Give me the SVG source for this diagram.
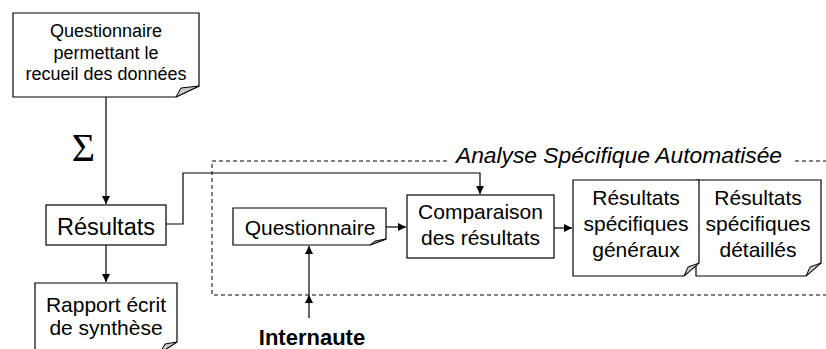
<svg xmlns="http://www.w3.org/2000/svg" width="826" height="349" viewBox="0 0 826 349">
<defs>
<style>
.box{fill:#fff;stroke:#000;stroke-width:1.2}
.fold{fill:#c8c8c8;stroke:#000;stroke-width:1}
.t{font-family:"Liberation Sans",Arial,sans-serif;fill:#000;text-anchor:middle}
.c{fill:none;stroke:#000;stroke-width:1.2}
.d{fill:none;stroke:#000;stroke-width:1;stroke-dasharray:4 3}
</style>
<marker id="ah" viewBox="0 0 10 10" refX="10" refY="5" markerWidth="8" markerHeight="8" markerUnits="userSpaceOnUse" orient="auto">
<path d="M0,0 L10,5 L0,10 z" fill="#000"/>
</marker>
</defs>
<rect width="826" height="349" fill="#fff"/>

<g id="group-analyse">
<path class="d" d="M447,161 H212 V295 H826"/>
<path class="d" d="M795,161 H826"/>
<text class="t" x="619" y="163" font-size="22.8" font-style="italic">Analyse Spécifique Automatisée</text>
</g>

<g id="connectors">
<path class="c" d="M106,97 V204" marker-end="url(#ah)"/>
<path class="c" d="M106,245 V282" marker-end="url(#ah)"/>
<path class="c" d="M166,224 H183 V173 H480 V194" marker-end="url(#ah)"/>
<path class="c" d="M386,227 H406" marker-end="url(#ah)"/>
<path class="c" d="M554,228 H572" marker-end="url(#ah)"/>
<path class="c" d="M309,318 V295" marker-end="url(#ah)"/>
<path class="c" d="M309,295 V246" marker-end="url(#ah)"/>
</g>

<g id="sigma">
<text x="83.5" y="161" font-family="Liberation Serif,'Times New Roman',serif" font-size="40" text-anchor="middle" fill="#000">Σ</text>
</g>

<g id="node-questionnaire-donnees">
<path class="box" d="M13,13 H199 V86 L176,97 H13 Z"/>
<path class="fold" d="M199,86 L176,97 L181,88 Z"/>
<text class="t" font-size="18" x="106" y="37">Questionnaire</text>
<text class="t" font-size="18" x="106" y="59">permettant le</text>
<text class="t" font-size="18" x="106" y="80">recueil des données</text>
</g>

<g id="node-resultats">
<rect class="box" x="46" y="205" width="120" height="40"/>
<text class="t" font-size="23.5" x="106" y="235">Résultats</text>
</g>

<g id="node-rapport">
<path class="box" d="M35,283 H177 V342 L160,353 H35 Z"/>
<path class="fold" d="M177,342 L160,353 L165,344 Z"/>
<text class="t" font-size="21" x="106" y="312">Rapport écrit</text>
<text class="t" font-size="21" x="106" y="335">de synthèse</text>
</g>

<g id="node-questionnaire">
<path class="box" d="M233,208 H386 V239 L370,245 H233 Z"/>
<path class="fold" d="M386,239 L370,245 L375,241 Z"/>
<text class="t" font-size="21" x="310" y="235">Questionnaire</text>
</g>

<g id="node-comparaison">
<rect class="box" x="407" y="195" width="147" height="63"/>
<text class="t" font-size="21" x="480.5" y="219">Comparaison</text>
<text class="t" font-size="21" x="480.5" y="245">des résultats</text>
</g>

<g id="node-resultats-detailles">
<path class="box" d="M696,180 H821 V263 L806,276 H696 Z"/>
<path class="fold" d="M821,263 L806,276 L810,267 Z"/>
<text class="t" font-size="21" x="758" y="205">Résultats</text>
<text class="t" font-size="21" x="758" y="231">spécifiques</text>
<text class="t" font-size="21" x="758" y="257">détaillés</text>
</g>

<g id="node-resultats-generaux">
<path class="box" d="M573,180 H699 V263 L684,276 H573 Z"/>
<path class="fold" d="M699,263 L684,276 L688,267 Z"/>
<text class="t" font-size="21" x="636" y="205">Résultats</text>
<text class="t" font-size="21" x="636" y="231">spécifiques</text>
<text class="t" font-size="21" x="636" y="257">généraux</text>
</g>

<g id="node-internaute">
<text class="t" font-size="22" font-weight="bold" x="312" y="345">Internaute</text>
</g>
</svg>
